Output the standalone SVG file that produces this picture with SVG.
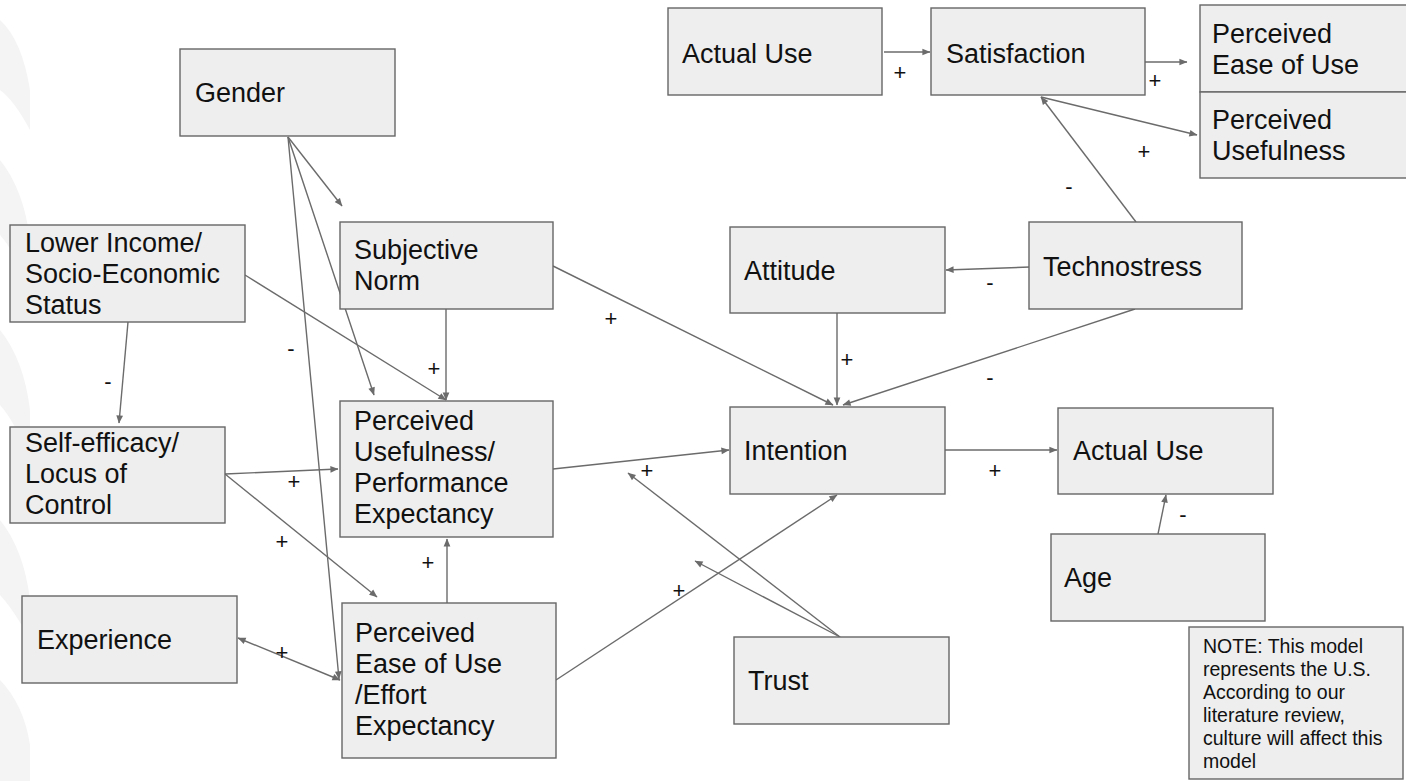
<svg xmlns="http://www.w3.org/2000/svg" width="1406" height="781" viewBox="0 0 1406 781">
  <defs>
    <style>
      .box { fill: #eeeeee; stroke: #666666; stroke-width: 1.4; }
      .lbl { font-family: "Liberation Sans", Arial, sans-serif; font-size: 27px; fill: #111111; }
      .note { font-family: "Liberation Sans", Arial, sans-serif; font-size: 19.5px; fill: #111111; }
      .sign { font-family: "Liberation Sans", Arial, sans-serif; font-size: 22px; fill: #111111; text-anchor: middle; }
      .edge { fill: none; stroke: #6b6b6b; stroke-width: 1.4; marker-end: url(#arrow); }
      .both { marker-start: url(#arrow); }
      .wm { fill: #f4f4f4; }
    </style>
    <marker id="arrow" viewBox="0 0 10 10" refX="9.5" refY="5" markerWidth="9" markerHeight="8" markerUnits="userSpaceOnUse" orient="auto-start-reverse">
      <path d="M0,0.8 L10,5 L0,9.2 z" fill="#6b6b6b"/>
    </marker>
  </defs>

  <rect width="1406" height="781" fill="#ffffff"/>

  <!-- faint background marks along the left edge -->
  <g id="backdrop">
    <path class="wm" d="M0,20 Q22,40 30,90 L30,130 Q14,100 0,90 Z"/>
    <path class="wm" d="M0,160 Q24,190 30,240 L30,290 Q14,250 0,235 Z"/>
    <path class="wm" d="M0,330 Q24,360 30,410 L30,460 Q14,420 0,405 Z"/>
    <path class="wm" d="M0,520 Q24,550 30,600 L30,640 Q14,610 0,595 Z"/>
    <path class="wm" d="M0,680 Q24,705 30,745 L30,781 L0,781 Z"/>
  </g>

  <!-- connectors -->
  <g id="connectors">
    <path class="edge" d="M884,52 L930,52"/>
    <path class="edge" d="M1139,62 L1187,62"/>
    <path class="edge" d="M1041,97 L1197,135"/>
    <path class="edge" d="M1136,222 L1041,97"/>
    <path class="edge" d="M1030,267 L946,270"/>
    <path class="edge" d="M1135,309 L843,405"/>
    <path class="edge" d="M837,313 L837,405"/>
    <path class="edge" d="M553,266 L833,405"/>
    <path class="edge" d="M446,309 L446,400"/>
    <path class="edge" d="M245,275 L446,400"/>
    <path class="edge" d="M128,322 L119,423"/>
    <path class="edge" d="M288,137 L342,206"/>
    <path class="edge" d="M288,137 L374,395"/>
    <path class="edge" d="M288,137 L339,679"/>
    <path class="edge" d="M225,474 L338,469"/>
    <path class="edge" d="M225,474 L377,597"/>
    <path class="edge both" d="M238,638 L340,680"/>
    <path class="edge" d="M447,603 L447,539"/>
    <path class="edge" d="M553,469 L729,450"/>
    <path class="edge" d="M556,680 L837,495"/>
    <path class="edge" d="M840,637 L628,473"/>
    <path class="edge" d="M840,637 L695,561"/>
    <path class="edge" d="M945,450 L1057,450"/>
    <path class="edge" d="M1158,534 L1166,495"/>
  </g>

  <!-- signs on the connectors -->
  <g id="signs">
    <text class="sign" x="900" y="80">+</text>
    <text class="sign" x="1155" y="88">+</text>
    <text class="sign" x="1144" y="159">+</text>
    <text class="sign" x="1069" y="194">-</text>
    <text class="sign" x="990" y="290">-</text>
    <text class="sign" x="990" y="385">-</text>
    <text class="sign" x="847" y="367">+</text>
    <text class="sign" x="611" y="326">+</text>
    <text class="sign" x="434" y="376">+</text>
    <text class="sign" x="108" y="389">-</text>
    <text class="sign" x="291" y="356">-</text>
    <text class="sign" x="294" y="489">+</text>
    <text class="sign" x="282" y="549">+</text>
    <text class="sign" x="428" y="570">+</text>
    <text class="sign" x="647" y="478">+</text>
    <text class="sign" x="679" y="598">+</text>
    <text class="sign" x="995" y="478">+</text>
    <text class="sign" x="1183" y="522">-</text>
    <text class="sign" x="282" y="660">+</text>
  </g>

  <!-- nodes -->
  <g id="actual-use-top">
    <rect class="box" x="668" y="8" width="214" height="87"/>
    <text class="lbl" x="682" y="63">Actual Use</text>
  </g>
  <g id="satisfaction">
    <rect class="box" x="931" y="8" width="214" height="87"/>
    <text class="lbl" x="946" y="63">Satisfaction</text>
  </g>
  <g id="perceived-ease-top">
    <rect class="box" x="1200" y="5" width="210" height="87"/>
    <text class="lbl" x="1212" y="43">Perceived</text>
    <text class="lbl" x="1212" y="74">Ease of Use</text>
  </g>
  <g id="perceived-usefulness-top">
    <rect class="box" x="1200" y="92" width="210" height="86"/>
    <text class="lbl" x="1212" y="129">Perceived</text>
    <text class="lbl" x="1212" y="160">Usefulness</text>
  </g>
  <g id="gender">
    <rect class="box" x="180" y="49" width="215" height="87"/>
    <text class="lbl" x="195" y="102">Gender</text>
  </g>
  <g id="lower-income">
    <rect class="box" x="10" y="225" width="235" height="97"/>
    <text class="lbl" x="25" y="252">Lower Income/</text>
    <text class="lbl" x="25" y="283">Socio-Economic</text>
    <text class="lbl" x="25" y="314">Status</text>
  </g>
  <g id="subjective-norm">
    <rect class="box" x="340" y="222" width="213" height="87"/>
    <text class="lbl" x="354" y="259">Subjective</text>
    <text class="lbl" x="354" y="290">Norm</text>
  </g>
  <g id="attitude">
    <rect class="box" x="730" y="227" width="215" height="86"/>
    <text class="lbl" x="744" y="280">Attitude</text>
  </g>
  <g id="technostress">
    <rect class="box" x="1029" y="222" width="213" height="87"/>
    <text class="lbl" x="1043" y="276">Technostress</text>
  </g>
  <g id="self-efficacy">
    <rect class="box" x="10" y="427" width="215" height="96"/>
    <text class="lbl" x="25" y="452">Self-efficacy/</text>
    <text class="lbl" x="25" y="483">Locus of</text>
    <text class="lbl" x="25" y="514">Control</text>
  </g>
  <g id="perceived-usefulness">
    <rect class="box" x="340" y="401" width="213" height="136"/>
    <text class="lbl" x="354" y="430">Perceived</text>
    <text class="lbl" x="354" y="461">Usefulness/</text>
    <text class="lbl" x="354" y="492">Performance</text>
    <text class="lbl" x="354" y="523">Expectancy</text>
  </g>
  <g id="intention">
    <rect class="box" x="730" y="407" width="215" height="87"/>
    <text class="lbl" x="744" y="460">Intention</text>
  </g>
  <g id="actual-use">
    <rect class="box" x="1058" y="408" width="215" height="86"/>
    <text class="lbl" x="1073" y="460">Actual Use</text>
  </g>
  <g id="age">
    <rect class="box" x="1051" y="534" width="214" height="87"/>
    <text class="lbl" x="1064" y="587">Age</text>
  </g>
  <g id="experience">
    <rect class="box" x="22" y="596" width="215" height="87"/>
    <text class="lbl" x="37" y="649">Experience</text>
  </g>
  <g id="perceived-ease">
    <rect class="box" x="342" y="603" width="214" height="155"/>
    <text class="lbl" x="355" y="642">Perceived</text>
    <text class="lbl" x="355" y="673">Ease of Use</text>
    <text class="lbl" x="355" y="704">/Effort</text>
    <text class="lbl" x="355" y="735">Expectancy</text>
  </g>
  <g id="trust">
    <rect class="box" x="734" y="637" width="215" height="87"/>
    <text class="lbl" x="748" y="690">Trust</text>
  </g>
  <g id="note">
    <rect class="box" x="1189" y="627" width="214" height="152"/>
    <text class="note" x="1203" y="653">NOTE: This model</text>
    <text class="note" x="1203" y="676">represents the U.S.</text>
    <text class="note" x="1203" y="699">According to our</text>
    <text class="note" x="1203" y="722">literature review,</text>
    <text class="note" x="1203" y="745">culture will affect this</text>
    <text class="note" x="1203" y="768">model</text>
  </g>
</svg>
